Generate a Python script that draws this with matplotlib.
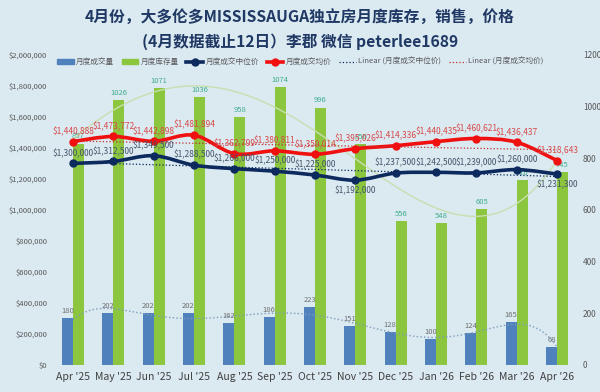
import numpy as np
import matplotlib.pyplot as plt
from matplotlib.path import Path
from matplotlib.patches import PathPatch
from matplotlib.lines import Line2D
from matplotlib.patches import Patch

plt.rcParams['font.family'] = ['Noto Sans CJK SC', 'DejaVu Sans']

months = ["Apr '25", "May '25", "Jun '25", "Jul '25", "Aug '25", "Sep '25", "Oct '25",
          "Nov '25", "Dec '25", "Jan '26", "Feb '26", "Mar '26", "Apr '26"]
volume = [180, 202, 202, 202, 162, 186, 223, 151, 128, 100, 124, 165, 68]
inventory = [857, 1026, 1071, 1036, 958, 1074, 996, 856, 556, 548, 605, 716, 745]
median = [1300000, 1312500, 1349500, 1288500, 1266000, 1250000, 1225000,
          1192000, 1237500, 1242500, 1239000, 1260000, 1231300]
average = [1440888, 1473772, 1442898, 1481894, 1362799, 1380811, 1359014,
           1395026, 1414336, 1440435, 1460621, 1436437, 1318643]
median_below = [7, 12]

bg = '#dbe9f1'
blue = '#4f81bd'
green = '#8cc63f'
navy = '#0c2a5e'
red = '#f01010'

x = np.arange(len(months))


def smooth_path(xs, ys):
    # Excel-style smoothed line: Catmull-Rom turned into cubic Bezier segments
    pts = np.column_stack([xs, ys]).astype(float)
    n = len(pts)
    verts = [pts[0]]
    codes = [Path.MOVETO]
    for i in range(n - 1):
        p0 = pts[max(i - 1, 0)]
        p1 = pts[i]
        p2 = pts[i + 1]
        p3 = pts[min(i + 2, n - 1)]
        c1 = p1 + (p2 - p0) / 6
        c2 = p2 - (p3 - p1) / 6
        verts += [c1, c2, p2]
        codes += [Path.CURVE4] * 3
    return Path(verts, codes)


fig = plt.figure(figsize=(6, 3.92), dpi=100, facecolor=bg)
ax = fig.add_axes([0.088, 0.069, 0.874, 0.791])
ax2 = ax.twinx()
ax.set_facecolor(bg)
ax2.set_zorder(ax.get_zorder() - 1)
ax.patch.set_visible(False)
ax2.set_facecolor(bg)

# bars on the secondary axis
w = 0.27
ax2.bar(x - w / 2, volume, w, color=blue, zorder=2)
ax2.bar(x + w / 2, inventory, w, color=green, zorder=2)
for xi, v in zip(x, volume):
    ax2.text(xi - w / 2, v + 12, str(v), ha='center', va='bottom', fontsize=5.5, color='#707070')
for xi, v in zip(x, inventory):
    ax2.text(xi + w / 2, v + 12, str(v), ha='center', va='bottom', fontsize=5.5, color='#3fae8a')

# polynomial trends on bars
xf = np.linspace(0, len(x) - 1, 200)
inv_fit = np.polyval(np.polyfit(x, inventory, 4), xf)
ax2.plot(xf, inv_fit, color='#c8dfb0', lw=1, zorder=3)
vol_fit = np.polyval(np.polyfit(x, volume, 6), xf)
ax2.plot(xf, vol_fit, color='#7d9cbc', lw=1, ls=':', zorder=3)

ax2.set_ylim(0, 1200)
ax2.set_yticks(range(0, 1201, 200))
ax2.tick_params(axis='y', length=0, labelsize=6, labelcolor='#595959', pad=4)

# price lines on the primary axis
ax.add_patch(PathPatch(smooth_path(x, median), fill=False, ec=navy, lw=2.6, zorder=4))
ax.plot(x, median, 'o', color=navy, ms=5, zorder=5)
ax.add_patch(PathPatch(smooth_path(x, average), fill=False, ec=red, lw=2.6, zorder=4))
ax.plot(x, average, 'o', color=red, ms=5, zorder=5)

med_fit = np.polyval(np.polyfit(x, median, 1), x)
avg_fit = np.polyval(np.polyfit(x, average, 1), x)
ax.plot(x, med_fit, color=navy, lw=0.9, ls=':', zorder=4)
ax.plot(x, avg_fit, color='#c03030', lw=0.9, ls=':', zorder=4)

for i, v in enumerate(median):
    if i in median_below:
        ax.text(i, v - 38000, f'${v:,}', ha='center', va='top', fontsize=6, color='#44546a', zorder=6)
    else:
        ax.text(i, v + 35000, f'${v:,}', ha='center', va='bottom', fontsize=6, color='#44546a', zorder=6)
for i, v in enumerate(average):
    ax.text(i, v + 35000, f'${v:,}', ha='center', va='bottom', fontsize=6, color='#d84848', zorder=6)

ax.set_xlim(-0.5, len(x) - 0.5)
ax.set_ylim(0, 2000000)
ax.set_yticks(range(0, 2000001, 200000))
ax.set_yticklabels([f'${v:,}' for v in range(0, 2000001, 200000)])
ax.tick_params(axis='y', length=0, labelsize=5.5, labelcolor='#595959', pad=4)
ax.set_xticks(x)
ax.set_xticklabels(months)
ax.tick_params(axis='x', length=0, labelsize=7.5, labelcolor='#404040', pad=5)

for a in (ax, ax2):
    for s in a.spines.values():
        s.set_visible(False)
ax.axhline(0, color='#c8d4dc', lw=0.8, zorder=1)

handles = [
    Patch(color=blue),
    Patch(color=green),
    Line2D([], [], color=navy, lw=2.6, marker='o', ms=5),
    Line2D([], [], color=red, lw=2.6, marker='o', ms=5),
    Line2D([], [], color=navy, lw=0.9, ls=':'),
    Line2D([], [], color='#c03030', lw=0.9, ls=':'),
]
labels = ['月度成交量', '月度库存量', '月度成交中位价', '月度成交均价',
          'Linear (月度成交中位价)', 'Linear (月度成交均价)']
fig.legend(handles, labels, loc='center', bbox_to_anchor=(0.5, 0.842), ncol=6, frameon=False,
           fontsize=5.5, labelcolor='#595959', handlelength=2.2, handleheight=0.6,
           columnspacing=1.0, handletextpad=0.3)

fig.text(0.5, 0.955, '4月份，大多伦多MISSISSAUGA独立房月度库存，销售，价格', ha='center', va='center',
         fontsize=11.3, fontweight='bold', color='#1f3864')
fig.text(0.5, 0.893, '(4月数据截止12日）李郡 微信 peterlee1689', ha='center', va='center',
         fontsize=11.3, fontweight='bold', color='#1f3864')

fig.savefig('out.png', dpi=100, facecolor=bg)
